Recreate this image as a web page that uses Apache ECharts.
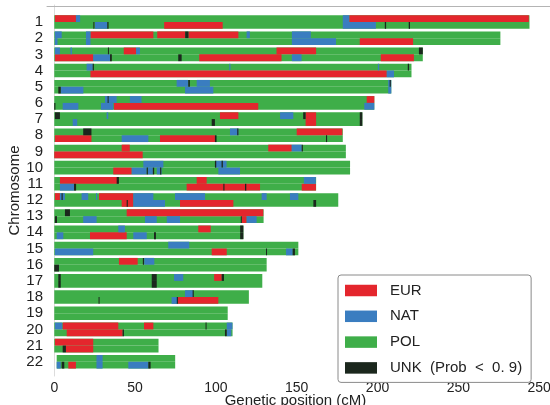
<!DOCTYPE html>
<html>
<head>
<meta charset="utf-8">
<script src="https://cdn.jsdelivr.net/npm/echarts@6/dist/echarts.min.js"></script>
<style>html,body{margin:0;padding:0;background:#fff}#c{width:550px;height:405px}</style>
</head>
<body>
<div id="c"></div>
<script>
// ---------- data ----------
const chromosomes = ['1','2','3','4','5','6','7','8','9','10','11','12','13','14','15','16','17','18','19','20','21','22'];
const chromStart  = [0,0,0,0,0,0,0,0,0,0,0,0,0,0,0,0,0,0,0,0,0,1.5];
const chromLength = [294,276,228,221,208.5,198,190.6,178.5,180.4,183,162,175.7,129.5,117,151,131.4,128.7,120.4,107.3,110.3,64.5,74.8];
const xTickValues = [0,50,100,150,200,250,300];
const xTickLabels = ['0','50','100','150','200','250','250'];
const ancestryNames = ['EUR','NAT','POL','UNK  (Prob  <  0. 9)'];

// segments: [chromosome, haplotype (0 upper, 1 lower), start cM, end cM]
const eurSegments = [
 [1,0,0.4,13.4],[1,0,182.5,293.6],[1,1,68,104.2],
 [2,0,22.4,61.3],[2,0,63.7,81],[2,0,83,113.9],[2,1,189,222],
 [3,0,43,50.6],[3,0,137.5,162],[3,1,0.4,24.1],[3,1,89.7,140.6],[3,1,202,222.5],
 [4,1,22.4,205.7],
 [6,0,193.3,198],[6,1,36.9,126.2],
 [7,0,102.5,113.9],[7,0,155.5,162],[7,1,155.5,162],
 [8,0,150,178.2],[8,1,0.4,23],[8,1,65.4,99.4],
 [9,0,41.7,46.7],[9,0,132.4,146.9],[9,1,0,54.7],
 [10,1,36.5,47.9],
 [11,0,3.5,39.6],[11,0,88.1,94.3],[11,1,81.9,127.3],[11,1,153.1,161.9],
 [12,0,0.4,3.5],[12,0,27.7,48.9],[12,1,41.7,48.9],[12,1,77.8,110.8],
 [13,0,44.8,129.3],[13,1,116,119],
 [14,0,89.1,96.8],[14,1,22.1,44.8],
 [15,1,97.4,106.7],
 [16,0,40,51.6],
 [17,0,98.9,103.6],
 [18,1,76.4,101.5],
 [20,0,5.2,39.6],[20,0,55.5,61.3],[20,1,7.7,42.3],
 [21,0,0.4,24.1],[21,1,7.2,24.1],
 [22,1,8.7,13.4]
];
const natSegments = [
 [1,0,13.4,16],[1,0,178.5,182.5],[1,1,25.2,32.8],[1,1,178.5,199],
 [2,0,0.4,4.6],[2,0,19.6,22.4],[2,0,119,121],[2,0,147,158.7],[2,1,0.4,2],[2,1,19.6,22.4],[2,1,147,174.3],
 [3,0,0.4,3.5],[3,0,10,11],[3,0,50.6,53],[3,1,24.1,34.5],[3,1,147,153],
 [4,0,20,23.8],[4,0,108.3,109],[4,0,200.2,201],[4,1,205.7,210.2],
 [5,0,75.7,82.9],[5,0,88.1,96.3],[5,1,4,18],[5,1,80.9,98.4],[5,0,206.6,208.5],[5,1,206.6,208.5],
 [6,0,31.4,38.6],[6,0,46.8,54],[6,1,5.2,14.9],[6,1,28.9,36.5],[6,1,191.8,198],
 [7,0,32.4,33.4],[7,0,139.7,147.9],[7,1,11.4,14.2],
 [8,0,108.7,113.9],[8,1,41.7,58.2],
 [9,0,146.9,153.1],
 [10,0,55.1,67.5],[10,0,99.4,106.6],[10,1,47.9,57.2],[10,1,57.9,61],[10,1,63.4,66.4],[10,1,101.5,114.9],
 [11,0,154.4,161.8],[11,1,3.5,12.2],
 [12,0,3.5,6.6],[12,0,16.9,21],[12,0,25.8,26.5],[12,0,48.9,61.3],[12,0,74.7,93.3],[12,0,128.3,131.4],[12,0,145.8,151],[12,1,48.9,68.5],
 [13,1,17.9,26.2],[13,1,56.1,63.4],[13,1,69.6,77.8],[13,1,119,125.2],
 [14,0,39.6,43.7],[14,1,1.5,5.6],[14,1,48.9,57.2],
 [15,0,70.5,83.5],[15,1,0.4,24.1],[15,1,143.4,147.5],
 [16,0,55.7,61.9],
 [17,0,74.1,79.8],
 [18,0,80.9,86],[18,1,72.6,76.4],
 [20,0,0.4,4.9],[20,0,106.7,110.2],[20,1,106.7,109.5],
 [22,0,26.1,29.9],[22,1,1.5,4],[22,1,26.1,29.9],[22,1,45.8,58.2]
];
const unkSegments = [
 [1,1,24.2,24.8],[1,1,32.8,33.6],[1,1,204.5,205.3],[1,1,219.3,220.1],
 [2,0,81,83],
 [3,0,33.2,33.8],[3,0,225.6,228],[3,1,34.5,35.6],[3,1,76.7,78.8],
 [4,0,23.8,24.5],[4,0,218.7,219.5],
 [5,0,82.9,83.9],[5,1,2.5,4],[5,0,207.5,208.2],
 [6,0,33,33.6],[6,1,0,0.7],
 [7,0,0.4,3.5],[7,0,154,155.5],[7,1,97.4,99.4],[7,0,189,190.6],[7,1,189,190.6],
 [8,0,17.9,23],[8,0,113.2,113.9],[8,1,99.4,100.4],[8,1,168.1,168.8],
 [9,0,153.1,153.8],
 [10,0,99.4,100.2],[10,0,103.5,104.3],[10,1,57.2,57.9],[10,1,61,61.8],[10,1,65.5,66.2],
 [11,0,38.6,40],[11,1,12.2,13.5],[11,1,104.6,105.3],[11,1,118,118.8],
 [12,0,4.5,5.2],[12,1,44.8,45.5],[12,1,160.3,162],
 [13,0,6.6,9.7],[13,1,0.4,1.7],[13,1,115.4,116],
 [14,0,115,117],[14,1,115,117],[14,1,61.7,62.9],
 [15,1,131,131.6],[15,1,147.5,148.9],
 [16,0,54.8,55.5],[16,1,0,2.9],
 [17,0,2.5,4],[17,1,2.5,4],[17,0,60.3,63.4],[17,1,60.3,63.4],[17,0,103.6,105],
 [18,0,85.6,86.3],[18,1,75.8,76.5],[18,1,27.4,28],
 [20,0,93.6,94.2],[20,1,42.3,43.1],[20,1,105.6,106.7],
 [21,1,5.2,7.2],
 [22,1,4.6,6.2],[22,1,58.2,59.6]
];

// ---------- build ----------
const colors = {EUR:'#e4262d', NAT:'#3a7dc0', POL:'#3fae49', UNK:'#1b271d'};
const STRIP = 0.42;
const polSegments = [];
chromLength.forEach((len, i) => {
  polSegments.push([i+1, 0, chromStart[i], len]);
  polSegments.push([i+1, 1, chromStart[i], len]);
});
function renderSeg(params, api) {
  const chrom = api.value(0), hap = api.value(1), s = api.value(2), e = api.value(3);
  const p1 = api.coord([s, chrom]);
  const p2 = api.coord([e, chrom]);
  const unit = Math.abs(api.size([0, 1])[1]);
  const h = unit * STRIP;
  const y = hap === 0 ? p1[1] - h : p1[1];
  return {type:'rect', shape:{x:p1[0], y:y, width:Math.max(p2[0]-p1[0], 1), height:h}, style: api.style()};
}
function seg(name, color, data) {
  return {type:'custom', name:name, renderItem:renderSeg, data:data,
    encode:{x:[2,3], y:0}, itemStyle:{color:color}, animation:false, silent:true};
}
const FONT = 'Liberation Sans, Arial, sans-serif';
const chart = echarts.init(document.getElementById('c'), null, {renderer:'canvas'});
chart.setOption({
  animation:false,
  grid:{left:47, right:0, top:5, bottom:29, containLabel:false, outerBoundsMode:'none'},
  xAxis:{type:'value', min:-4.5, max:306.7,
    name:'Genetic position (cM)', nameLocation:'middle', nameGap:17, nameMoveOverlap:false,
    nameTextStyle:{fontSize:15, color:'#222', fontFamily:FONT, padding:[0,6,0,0]},
    axisLine:{show:true, lineStyle:{color:'#b4b4b4', width:1}},
    axisTick:{show:false},
    splitLine:{show:false},
    axisLabel:{customValues:xTickValues, fontSize:14, color:'#222', fontFamily:FONT, margin:5, hideOverlap:false,
      formatter:function(v){ const i = xTickValues.indexOf(v); return i>=0 ? xTickLabels[i] : ''; }}
  },
  yAxis:{type:'value', inverse:true, min:-0.051, max:22.879,
    name:'Chromosome', nameLocation:'middle', nameGap:25, nameRotate:90, nameMoveOverlap:false,
    nameTextStyle:{fontSize:15, color:'#222', fontFamily:FONT},
    axisLine:{show:true, lineStyle:{color:'#dcdcdc', width:1}},
    axisTick:{show:false},
    splitLine:{show:false},
    axisLabel:{customValues:chromosomes.map((c,i)=>i+1), fontSize:15, color:'#222', fontFamily:FONT, margin:4,
      formatter:function(v){ return chromosomes[v-1] || ''; }}
  },
  legend:{orient:'vertical', left:338, top:275, icon:'rect',
    itemWidth:32, itemHeight:11.5, itemGap:10.8,
    padding:[8,9,7,7],
    backgroundColor:'#fff', borderColor:'#8a8a8a', borderWidth:1, borderRadius:3,
    textStyle:{fontSize:15, color:'#222', fontFamily:FONT, padding:[0,0,0,8]},
    data:ancestryNames
  },
  series:[
    seg(ancestryNames[2], colors.POL, polSegments),
    seg(ancestryNames[0], colors.EUR, eurSegments),
    seg(ancestryNames[1], colors.NAT, natSegments),
    seg(ancestryNames[3], colors.UNK, unkSegments)
  ]
});
</script>
</body>
</html>
